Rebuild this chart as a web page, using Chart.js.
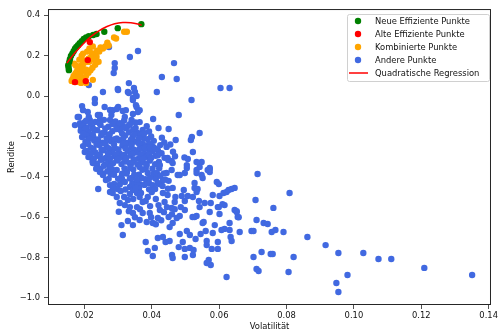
<!DOCTYPE html>
<html>
<head>
<meta charset="utf-8">
<script src="https://cdn.jsdelivr.net/npm/chart.js@4.4.1/dist/chart.umd.min.js"></script>
<style>
  html, body { margin: 0; padding: 0; background: #ffffff; }
  #wrap { width: 500px; height: 333px; }
</style>
</head>
<body>
<div id="wrap"><canvas id="frontier" width="500" height="333"></canvas></div>
<script>
// Portfolio samples: [volatility, return]
const neueEffizientePunkte = [
  [0.0369, 0.356], [0.0299, 0.336], [0.0259, 0.318], [0.0236, 0.307], [0.0226, 0.302],
  [0.0213, 0.296], [0.0205, 0.290], [0.0198, 0.283], [0.0192, 0.272], [0.0186, 0.262],
  [0.0181, 0.252], [0.0176, 0.243], [0.0172, 0.234], [0.0168, 0.222], [0.0164, 0.210],
  [0.0160, 0.198], [0.0157, 0.182], [0.0155, 0.168], [0.0152, 0.153], [0.0153, 0.140],
  [0.0154, 0.128]
];

const alteEffizientePunkte = [
  [0.0216, 0.267], [0.0210, 0.178], [0.0172, 0.069], [0.0204, 0.074]
];

const kombiniertePunkte = [
  [0.0326, 0.318], [0.0318, 0.318], [0.0294, 0.285], [0.0288, 0.290], [0.0268, 0.264],
  [0.0262, 0.245], [0.0272, 0.250], [0.0255, 0.235], [0.0248, 0.240], [0.0244, 0.220],
  [0.0238, 0.225], [0.0232, 0.210], [0.0226, 0.200], [0.0222, 0.212], [0.0218, 0.190],
  [0.0212, 0.185], [0.0236, 0.195], [0.0228, 0.180], [0.0214, 0.170], [0.0205, 0.168],
  [0.0200, 0.175], [0.0196, 0.160], [0.0190, 0.150], [0.0185, 0.145], [0.0182, 0.130],
  [0.0177, 0.120], [0.0173, 0.110], [0.0168, 0.100], [0.0165, 0.085], [0.0162, 0.075],
  [0.0170, 0.070], [0.0180, 0.070], [0.0192, 0.072], [0.0196, 0.085], [0.0205, 0.100],
  [0.0212, 0.115], [0.0218, 0.128], [0.0224, 0.140], [0.0232, 0.155], [0.0242, 0.170],
  [0.0198, 0.125], [0.0188, 0.110], [0.0178, 0.090], [0.0186, 0.095], [0.0195, 0.140],
  [0.0205, 0.130], [0.0192, 0.200], [0.0196, 0.210], [0.0175, 0.150], [0.0170, 0.160],
  [0.0185, 0.180], [0.0208, 0.220], [0.0215, 0.235], [0.0225, 0.245], [0.0205, 0.065],
  [0.0190, 0.065], [0.0172, 0.090], [0.0225, 0.080]
];

const anderePunkte = [
  // upper, sparse part
  [0.0273, 0.243], [0.0359, 0.223], [0.0335, 0.193], [0.0290, 0.163], [0.0290, 0.139],
  [0.0287, 0.114], [0.0466, 0.163], [0.0430, 0.094], [0.0474, 0.084], [0.0213, 0.054],
  [0.0332, 0.064], [0.0347, 0.040], [0.0300, 0.030], [0.0329, 0.020], [0.0415, 0.020],
  [0.0604, 0.040], [0.0631, 0.040], [0.0255, 0.020], [0.0518, -0.020], [0.0355, 0.000],
  [0.0344, -0.020], [0.0231, -0.015], [0.0231, -0.035], [0.0193, -0.050], [0.0196, -0.070],
  [0.0260, -0.054], [0.0300, -0.054], [0.0323, -0.070], [0.0355, -0.054], [0.0364, -0.070],
  [0.0284, -0.070], [0.0480, -0.094], [0.0404, -0.114], [0.0344, -0.089], [0.0184, -0.104],
  [0.0187, -0.134], [0.0216, -0.119], [0.0246, -0.094], [0.0420, -0.158], [0.0450, -0.163],
  [0.0329, -0.149], [0.0296, -0.153], [0.0542, -0.183], [0.0519, -0.203], [0.0516, -0.218],
  [0.0471, -0.218], [0.0376, -0.208], [0.0404, -0.252], [0.0444, -0.252], [0.0522, -0.277],
  [0.0548, -0.327], [0.0572, -0.356], [0.0190, -0.153], [0.0193, -0.203], [0.0201, -0.277],
  [0.0299, 0.035], [0.0332, 0.015], [0.0350, 0.020], [0.0344, -0.010], [0.0353, -0.045],
  [0.0276, -0.069], [0.0296, -0.064], [0.0314, -0.074], [0.0359, -0.079], [0.0210, -0.079],
  [0.0213, -0.104], [0.0180, -0.104], [0.0240, -0.094], [0.0246, -0.119], [0.0276, -0.119],
  [0.0280, -0.094], [0.0320, -0.104], [0.0340, -0.119], [0.0364, -0.129], [0.0373, -0.168],
  [0.0172, -0.144], [0.0201, -0.129], [0.0207, -0.158],
  // dense band
  [0.0205, -0.122], [0.0232, -0.128], [0.0258, -0.118], [0.0292, -0.126], [0.0318, -0.121],
  [0.0352, -0.131], [0.0195, -0.148], [0.0224, -0.155], [0.0248, -0.143], [0.0271, -0.152],
  [0.0312, -0.146], [0.0352, -0.158], [0.0385, -0.150], [0.0189, -0.172], [0.0212, -0.178],
  [0.0238, -0.169], [0.0260, -0.181], [0.0283, -0.174], [0.0307, -0.168], [0.0332, -0.179],
  [0.0358, -0.183], [0.0392, -0.176], [0.0208, -0.198], [0.0227, -0.205], [0.0250, -0.194],
  [0.0273, -0.202], [0.0296, -0.210], [0.0321, -0.196], [0.0343, -0.204], [0.0367, -0.193],
  [0.0398, -0.200], [0.0430, -0.206], [0.0203, -0.228], [0.0229, -0.220], [0.0253, -0.231],
  [0.0279, -0.224], [0.0303, -0.219], [0.0327, -0.232], [0.0351, -0.226], [0.0373, -0.236],
  [0.0406, -0.222], [0.0437, -0.230], [0.0196, -0.248], [0.0219, -0.256], [0.0244, -0.243],
  [0.0266, -0.252], [0.0291, -0.260], [0.0313, -0.245], [0.0339, -0.253], [0.0363, -0.262],
  [0.0386, -0.244], [0.0418, -0.268], [0.0455, -0.240], [0.0207, -0.272], [0.0233, -0.281],
  [0.0257, -0.269], [0.0282, -0.278], [0.0305, -0.285], [0.0329, -0.271], [0.0353, -0.280],
  [0.0379, -0.287], [0.0401, -0.274], [0.0429, -0.283], [0.0463, -0.276], [0.0212, -0.302],
  [0.0239, -0.296], [0.0263, -0.307], [0.0289, -0.299], [0.0311, -0.305], [0.0336, -0.295],
  [0.0361, -0.310], [0.0384, -0.301], [0.0411, -0.296], [0.0438, -0.306], [0.0469, -0.298],
  [0.0497, -0.304], [0.0224, -0.322], [0.0249, -0.316], [0.0273, -0.327], [0.0297, -0.319],
  [0.0321, -0.324], [0.0346, -0.315], [0.0369, -0.328], [0.0394, -0.320], [0.0421, -0.326],
  [0.0449, -0.317],
  [0.0218, -0.137], [0.0245, -0.135], [0.0283, -0.139], [0.0305, -0.134], [0.0335, -0.140],
  [0.0202, -0.162], [0.0228, -0.165], [0.0262, -0.160], [0.0295, -0.163], [0.0322, -0.158],
  [0.0345, -0.166], [0.0198, -0.187], [0.0225, -0.190], [0.0252, -0.184], [0.0275, -0.189],
  [0.0312, -0.186], [0.0348, -0.191], [0.0378, -0.184], [0.0215, -0.212], [0.0240, -0.215],
  [0.0266, -0.209], [0.0290, -0.214], [0.0315, -0.211], [0.0338, -0.216], [0.0362, -0.210],
  [0.0388, -0.214], [0.0211, -0.237], [0.0236, -0.240], [0.0262, -0.234], [0.0288, -0.239],
  [0.0315, -0.236], [0.0340, -0.241], [0.0362, -0.235], [0.0395, -0.238], [0.0425, -0.243],
  [0.0227, -0.262], [0.0251, -0.265], [0.0273, -0.259], [0.0301, -0.264], [0.0322, -0.260],
  [0.0347, -0.266], [0.0372, -0.261], [0.0392, -0.266], [0.0218, -0.287], [0.0246, -0.290],
  [0.0270, -0.284], [0.0295, -0.289], [0.0318, -0.292], [0.0342, -0.286], [0.0366, -0.291],
  [0.0392, -0.288], [0.0418, -0.293], [0.0228, -0.310], [0.0252, -0.313], [0.0276, -0.308],
  [0.0299, -0.312], [0.0324, -0.309], [0.0348, -0.314], [0.0374, -0.311], [0.0398, -0.307],
  [0.0238, -0.335], [0.0262, -0.338], [0.0285, -0.333], [0.0310, -0.337], [0.0334, -0.332],
  [0.0358, -0.339], [0.0383, -0.335], [0.0410, -0.338], [0.0248, -0.360], [0.0282, -0.362],
  [0.0319, -0.358], [0.0345, -0.364], [0.0382, -0.360], [0.0422, -0.357], [0.0256, -0.385],
  [0.0278, -0.388], [0.0325, -0.384], [0.0362, -0.389], [0.0405, -0.386], [0.0436, -0.383],
  [0.0272, -0.410], [0.0312, -0.413], [0.0335, -0.408], [0.0382, -0.412], [0.0412, -0.409],
  [0.0440, -0.414], [0.0288, -0.435], [0.0305, -0.438], [0.0342, -0.433], [0.0365, -0.437],
  [0.0392, -0.432], [0.0422, -0.436], [0.0298, -0.460], [0.0322, -0.463], [0.0362, -0.458],
  [0.0392, -0.462], [0.0448, -0.459],
  [0.0380, -0.257], [0.0395, -0.255], [0.0410, -0.260], [0.0507, -0.312], [0.0447, -0.307],
  [0.0459, -0.322], [0.0566, -0.366], [0.0572, -0.376], [0.0533, -0.366], [0.0504, -0.356],
  [0.0477, -0.391], [0.0551, -0.406], [0.0593, -0.426], [0.0527, -0.455], [0.0536, -0.460],
  [0.0581, -0.490], [0.0557, -0.530], [0.0596, -0.550], [0.0616, -0.540], [0.0527, -0.599],
  // middle and lower part
  [0.0302, -0.573], [0.0329, -0.619], [0.0310, -0.639], [0.0314, -0.688], [0.0344, -0.639],
  [0.0382, -0.723], [0.0388, -0.767], [0.0403, -0.792], [0.0409, -0.752], [0.0418, -0.703],
  [0.0433, -0.698], [0.0453, -0.718], [0.0441, -0.723], [0.0460, -0.787], [0.0462, -0.802],
  [0.0480, -0.748], [0.0483, -0.683], [0.0492, -0.723], [0.0498, -0.757], [0.0498, -0.797],
  [0.0513, -0.752], [0.0522, -0.787], [0.0524, -0.762], [0.0504, -0.668], [0.0513, -0.688],
  [0.0530, -0.708], [0.0545, -0.683], [0.0560, -0.668], [0.0554, -0.624], [0.0563, -0.718],
  [0.0563, -0.738], [0.0578, -0.757], [0.0596, -0.757], [0.0596, -0.723], [0.0581, -0.678],
  [0.0587, -0.639], [0.0601, -0.584], [0.0599, -0.550], [0.0601, -0.495], [0.0599, -0.436],
  [0.0610, -0.535], [0.0613, -0.480], [0.0622, -0.475], [0.0628, -0.465], [0.0637, -0.460],
  [0.0572, -0.574], [0.0575, -0.530], [0.0551, -0.629], [0.0533, -0.594], [0.0521, -0.599],
  [0.0542, -0.550], [0.0540, -0.520], [0.0533, -0.475], [0.0522, -0.500], [0.0527, -0.431],
  [0.0533, -0.381], [0.0548, -0.391], [0.0572, -0.361], [0.0495, -0.465], [0.0498, -0.520],
  [0.0507, -0.495], [0.0489, -0.495], [0.0486, -0.550], [0.0498, -0.564], [0.0483, -0.594],
  [0.0474, -0.604], [0.0462, -0.629], [0.0453, -0.649], [0.0450, -0.599], [0.0459, -0.554],
  [0.0468, -0.525], [0.0447, -0.490], [0.0433, -0.480], [0.0438, -0.525], [0.0424, -0.564],
  [0.0418, -0.604], [0.0403, -0.629], [0.0394, -0.579], [0.0385, -0.624], [0.0373, -0.579],
  [0.0364, -0.614], [0.0356, -0.550], [0.0344, -0.579], [0.0335, -0.550], [0.0329, -0.515],
  [0.0320, -0.540], [0.0305, -0.530], [0.0296, -0.500], [0.0284, -0.480], [0.0276, -0.475],
  [0.0276, -0.441], [0.0264, -0.416], [0.0255, -0.391], [0.0246, -0.376], [0.0237, -0.351],
  [0.0225, -0.332], [0.0276, -0.351], [0.0296, -0.366], [0.0310, -0.401], [0.0320, -0.426],
  [0.0335, -0.450], [0.0344, -0.465], [0.0356, -0.480], [0.0364, -0.500], [0.0373, -0.525],
  [0.0388, -0.500], [0.0400, -0.475], [0.0403, -0.441], [0.0418, -0.431], [0.0433, -0.416],
  [0.0444, -0.381], [0.0459, -0.366], [0.0483, -0.391], [0.0498, -0.381], [0.0415, -0.381],
  [0.0388, -0.381], [0.0370, -0.406], [0.0356, -0.431], [0.0341, -0.406], [0.0326, -0.376],
  [0.0385, -0.342], [0.0364, -0.351], [0.0341, -0.332], [0.0424, -0.342], [0.0462, -0.332],
  [0.0504, -0.342], [0.0542, -0.351], [0.0533, -0.327], [0.0622, -0.896], [0.0569, -0.812],
  [0.0575, -0.837], [0.0563, -0.827], [0.0655, -0.599], [0.0652, -0.574], [0.0646, -0.564],
  [0.0661, -0.673], [0.0634, -0.698], [0.0637, -0.718], [0.0631, -0.663], [0.0616, -0.658],
  [0.0607, -0.663], [0.0631, -0.629], [0.0652, -0.570], [0.0658, -0.600], [0.0646, -0.455],
  [0.0241, -0.460],
  [0.0235, -0.360], [0.0258, -0.345], [0.0268, -0.372], [0.0288, -0.390], [0.0300, -0.410],
  [0.0312, -0.385], [0.0336, -0.355], [0.0348, -0.390], [0.0356, -0.415], [0.0372, -0.365],
  [0.0378, -0.440], [0.0395, -0.405], [0.0402, -0.360], [0.0410, -0.460], [0.0425, -0.395],
  [0.0432, -0.445], [0.0450, -0.420], [0.0462, -0.455], [0.0470, -0.500], [0.0285, -0.455],
  [0.0308, -0.470], [0.0318, -0.500], [0.0335, -0.485], [0.0345, -0.510], [0.0352, -0.455],
  [0.0368, -0.480], [0.0382, -0.520], [0.0395, -0.545], [0.0412, -0.510], [0.0420, -0.540],
  [0.0436, -0.575], [0.0445, -0.550], [0.0460, -0.585], [0.0468, -0.560], [0.0398, -0.600],
  [0.0412, -0.635], [0.0428, -0.615], [0.0350, -0.600], [0.0332, -0.570], [0.0365, -0.560],
  // right tail
  [0.0714, -0.386], [0.0809, -0.480], [0.0708, -0.515], [0.0761, -0.554], [0.0711, -0.614],
  [0.0732, -0.629], [0.0744, -0.634], [0.0696, -0.668], [0.0702, -0.668], [0.0756, -0.673],
  [0.0767, -0.663], [0.0791, -0.673], [0.0862, -0.698], [0.0916, -0.738], [0.0726, -0.772],
  [0.0753, -0.782], [0.0759, -0.782], [0.0702, -0.797], [0.0821, -0.797], [0.0954, -0.777],
  [0.1028, -0.777], [0.1073, -0.807], [0.1111, -0.807], [0.1209, -0.851], [0.1351, -0.886],
  [0.0711, -0.856], [0.0717, -0.866], [0.0806, -0.871], [0.0981, -0.886], [0.0948, -0.926],
  [0.0954, -0.970]
];

// Fitted curve, sampled along its course
const regressionPunkte = [
  [0.0148, 0.163], [0.0172, 0.214], [0.0196, 0.258], [0.0219, 0.294], [0.0243, 0.323],
  [0.0267, 0.344], [0.0290, 0.358], [0.0314, 0.364], [0.0338, 0.363], [0.0362, 0.355],
  [0.0370, 0.350]
];

const xTicks = [0.02, 0.04, 0.06, 0.08, 0.10, 0.12, 0.14];
const yTicks = [-1.0, -0.8, -0.6, -0.4, -0.2, 0.0, 0.2, 0.4];

const FONT = "'DejaVu Sans', sans-serif";
const toXY = pts => pts.map(([x, y]) => ({ x, y }));
const minus = s => s.replace("-", "\u2212");

// all four spines
const frame = {
  id: "frame",
  afterDatasetsDraw(chart) {
    const { ctx, chartArea: a } = chart;
    ctx.save();
    ctx.strokeStyle = "#262626";
    ctx.lineWidth = 1;
    ctx.strokeRect(a.left + 0.5, a.top + 0.5, a.right - a.left - 1, a.bottom - a.top - 1);
    ctx.restore();
  }
};

// matplotlib-style legend box in the upper right corner
const legendBox = {
  id: "legendBox",
  afterDraw(chart) {
    const ctx = chart.ctx;
    const items = chart.data.datasets
      .map(ds => ds)
      .sort((a, b) => a.legendRank - b.legendRank);
    const x = 347, y = 14, w = 142, h = 67;
    ctx.save();
    ctx.fillStyle = "rgba(255,255,255,0.8)";
    ctx.strokeStyle = "#d0d0d0";
    ctx.lineWidth = 1;
    ctx.beginPath();
    ctx.roundRect(x + 0.5, y + 0.5, w, h, 2);
    ctx.fill();
    ctx.stroke();
    ctx.font = "8.4px " + FONT;
    ctx.textBaseline = "middle";
    items.forEach((ds, i) => {
      const ry = 21 + i * 13;
      if (ds.type === "line") {
        ctx.strokeStyle = ds.borderColor;
        ctx.lineWidth = 1.5;
        ctx.beginPath();
        ctx.moveTo(349, ry);
        ctx.lineTo(368, ry);
        ctx.stroke();
      } else {
        ctx.fillStyle = ds.backgroundColor;
        ctx.beginPath();
        ctx.arc(358, ry, 3.2, 0, Math.PI * 2);
        ctx.fill();
      }
      ctx.fillStyle = "#111";
      ctx.fillText(ds.label, 375, ry + 0.5);
    });
    ctx.restore();
  }
};

const pointStyle = color => ({
  backgroundColor: color,
  borderColor: color,
  borderWidth: 0,
  pointRadius: 3.2,
  pointHoverRadius: 3.2
});

const tickGrid = {
  display: true,
  drawOnChartArea: false,
  drawTicks: true,
  tickLength: 4,
  color: "#262626",
  lineWidth: 0.8
};

new Chart(document.getElementById("frontier"), {
  type: "scatter",
  data: {
    datasets: [
      {
        type: "line",
        label: "Quadratische Regression",
        legendRank: 4,
        data: toXY(regressionPunkte),
        borderColor: "#ff0000",
        borderWidth: 1.5,
        pointRadius: 0,
        tension: 0.4,
        fill: false
      },
      { label: "Alte Effiziente Punkte", legendRank: 1, data: toXY(alteEffizientePunkte), ...pointStyle("#ff0000") },
      { label: "Neue Effiziente Punkte", legendRank: 0, data: toXY(neueEffizientePunkte), ...pointStyle("#008000") },
      { label: "Kombinierte Punkte", legendRank: 2, data: toXY(kombiniertePunkte), ...pointStyle("#ffa500") },
      { label: "Andere Punkte", legendRank: 3, data: toXY(anderePunkte), ...pointStyle("#4169e1") }
    ]
  },
  options: {
    responsive: false,
    animation: false,
    devicePixelRatio: 1,
    layout: { padding: { left: 0, top: 9, right: 8, bottom: 0 } },
    plugins: {
      legend: { display: false },
      tooltip: { enabled: false }
    },
    scales: {
      x: {
        type: "linear",
        min: 0.00919,
        max: 0.1407,
        grid: tickGrid,
        border: { display: false },
        afterBuildTicks: scale => { scale.ticks = xTicks.map(v => ({ value: v })); },
        afterFit: scale => { scale.height = 28; },
        ticks: {
          autoSkip: false,
          maxRotation: 0,
          padding: 2,
          color: "#111",
          font: { family: FONT, size: 8.4 },
          callback: v => v.toFixed(2)
        },
        title: {
          display: true,
          text: "Volatilität",
          color: "#111",
          font: { family: FONT, size: 8.4 },
          padding: { top: 0, bottom: 1 }
        }
      },
      y: {
        type: "linear",
        min: -1.0347,
        max: 0.4307,
        grid: tickGrid,
        border: { display: false },
        afterBuildTicks: scale => { scale.ticks = yTicks.map(v => ({ value: v })); },
        afterFit: scale => { scale.width = 48; },
        ticks: {
          autoSkip: false,
          padding: 4,
          color: "#111",
          font: { family: FONT, size: 8.4 },
          callback: v => minus(v.toFixed(1))
        },
        title: {
          display: true,
          text: "Rendite",
          color: "#111",
          font: { family: FONT, size: 8.4 },
          padding: { top: 7, bottom: 0 }
        }
      }
    }
  },
  plugins: [frame, legendBox]
});
</script>
</body>
</html>
